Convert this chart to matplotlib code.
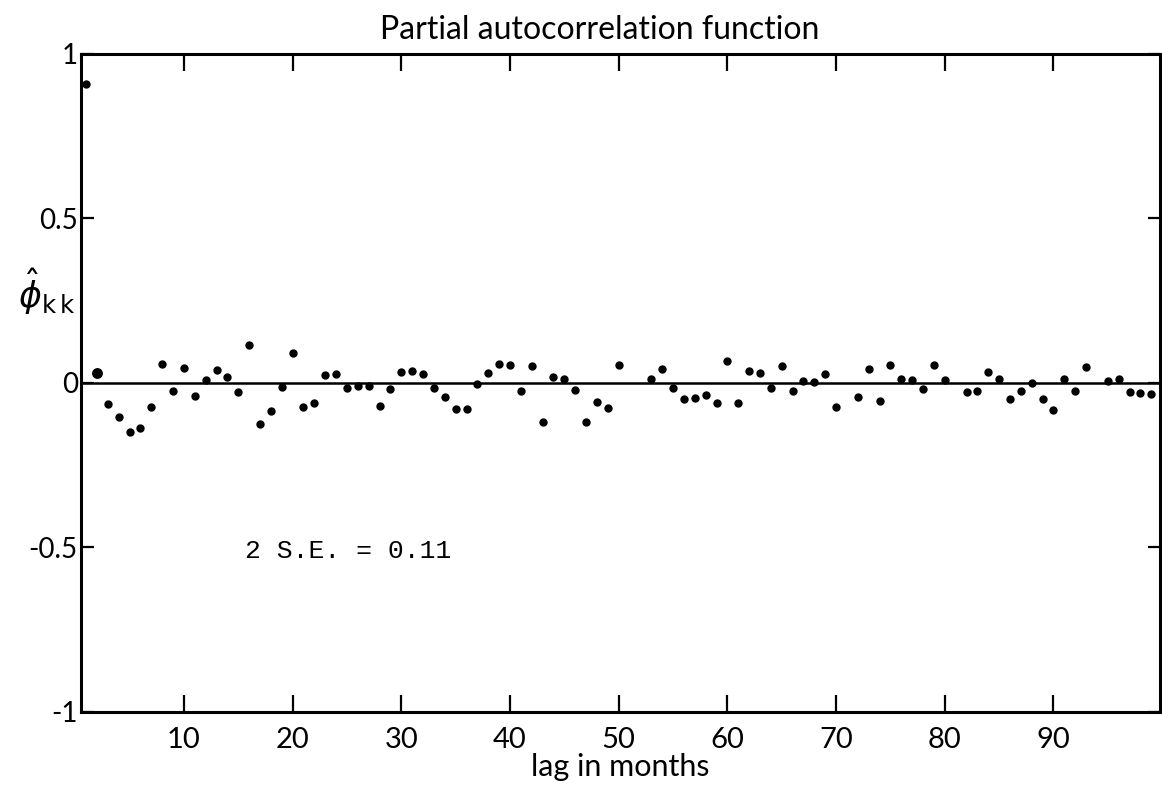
import matplotlib
matplotlib.use("Agg")
import matplotlib.pyplot as plt

# lag (months) of each visible point and its partial autocorrelation
lags = [1, 2, 3, 4, 5, 6, 7, 8, 9, 10,
        11, 12, 13, 14, 15, 16, 17, 18, 19, 20,
        21, 22, 23, 24, 25, 26, 27, 28, 29, 30,
        31, 32, 33, 34, 35, 36, 37, 38, 39, 40,
        41, 42, 43, 44, 45, 46, 47, 48, 49, 50,
        53, 54, 55, 56, 57, 58, 59, 60,
        61, 62, 63, 64, 65, 66, 67, 68, 69, 70,
        72, 73, 74, 75, 76, 77, 78, 79, 80,
        82, 83, 84, 85, 86, 87, 88, 89, 90,
        91, 92, 93, 95, 96, 97, 98, 99]
pacf = [0.910, 0.030, -0.063, -0.103, -0.149, -0.136, -0.073, 0.057, -0.024, 0.046,
        -0.040, 0.010, 0.038, 0.017, -0.028, 0.116, -0.126, -0.084, -0.012, 0.092,
        -0.074, -0.062, 0.024, 0.027, -0.015, -0.010, -0.008, -0.070, -0.017, 0.032,
        0.036, 0.026, -0.016, -0.043, -0.080, -0.078, -0.003, 0.030, 0.058, 0.056,
        -0.023, 0.051, -0.119, 0.018, 0.011, -0.020, -0.119, -0.057, -0.077, 0.055,
        0.011, 0.044, -0.016, -0.049, -0.046, -0.038, -0.062, 0.068,
        -0.062, 0.036, 0.030, -0.016, 0.051, -0.025, 0.007, 0.003, 0.028, -0.073,
        -0.043, 0.043, -0.056, 0.054, 0.011, 0.010, -0.018, 0.054, 0.010,
        -0.026, -0.024, 0.033, 0.013, -0.050, -0.024, 0.001, -0.050, -0.083,
        0.013, -0.025, 0.050, 0.006, 0.013, -0.028, -0.030, -0.034]

x_ticks = [10, 20, 30, 40, 50, 60, 70, 80, 90]
y_ticks = [-1, -0.5, 0, 0.5, 1]
y_tick_labels = ["-1", "-0.5", "0", "0.5", "1"]

plt.rcParams["font.family"] = ["Lato", "DejaVu Sans"]

fig = plt.figure(figsize=(11.62, 7.87), dpi=100)
ax = fig.add_axes([0.0694, 0.0953, 0.9289, 0.8361])

ax.axhline(0, color="black", linewidth=1.8, zorder=1)
ax.plot(lags, pacf, "o", color="black", markersize=5, zorder=2)
# the second lag is drawn a little heavier in the original
ax.plot(lags[1], pacf[1], "o", color="black", markersize=6.8, zorder=2)

ax.set_xlim(0.5, 99.8)
ax.set_ylim(-1, 1)
ax.set_xticks(x_ticks)
ax.set_xticklabels([str(t) for t in x_ticks], fontsize=21)
ax.set_yticks(y_ticks)
ax.set_yticklabels(y_tick_labels, fontsize=20)

ax.tick_params(axis="x", direction="in", length=12, width=1.6,
               top=True, bottom=True, pad=11)
ax.tick_params(axis="y", direction="in", length=9, width=1.6,
               left=True, right=True, pad=2)
for side in ax.spines.values():
    side.set_linewidth(2.2)

ax.set_xlabel("lag in months", fontsize=22, labelpad=0)
fig.text(0.040, 0.63, r"$\hat{\phi}_{\mathrm{k\,k}}$", fontsize=25,
         ha="center", va="center")
fig.text(0.516, 0.962, "Partial autocorrelation function", fontsize=23,
         ha="center", va="center")

ax.text(15.6, -0.51, "2 S.E. = 0.11", family=["Liberation Mono", "DejaVu Sans Mono"],
        fontsize=19, ha="left", va="center")

fig.savefig("out.png", dpi=100, facecolor="white")
